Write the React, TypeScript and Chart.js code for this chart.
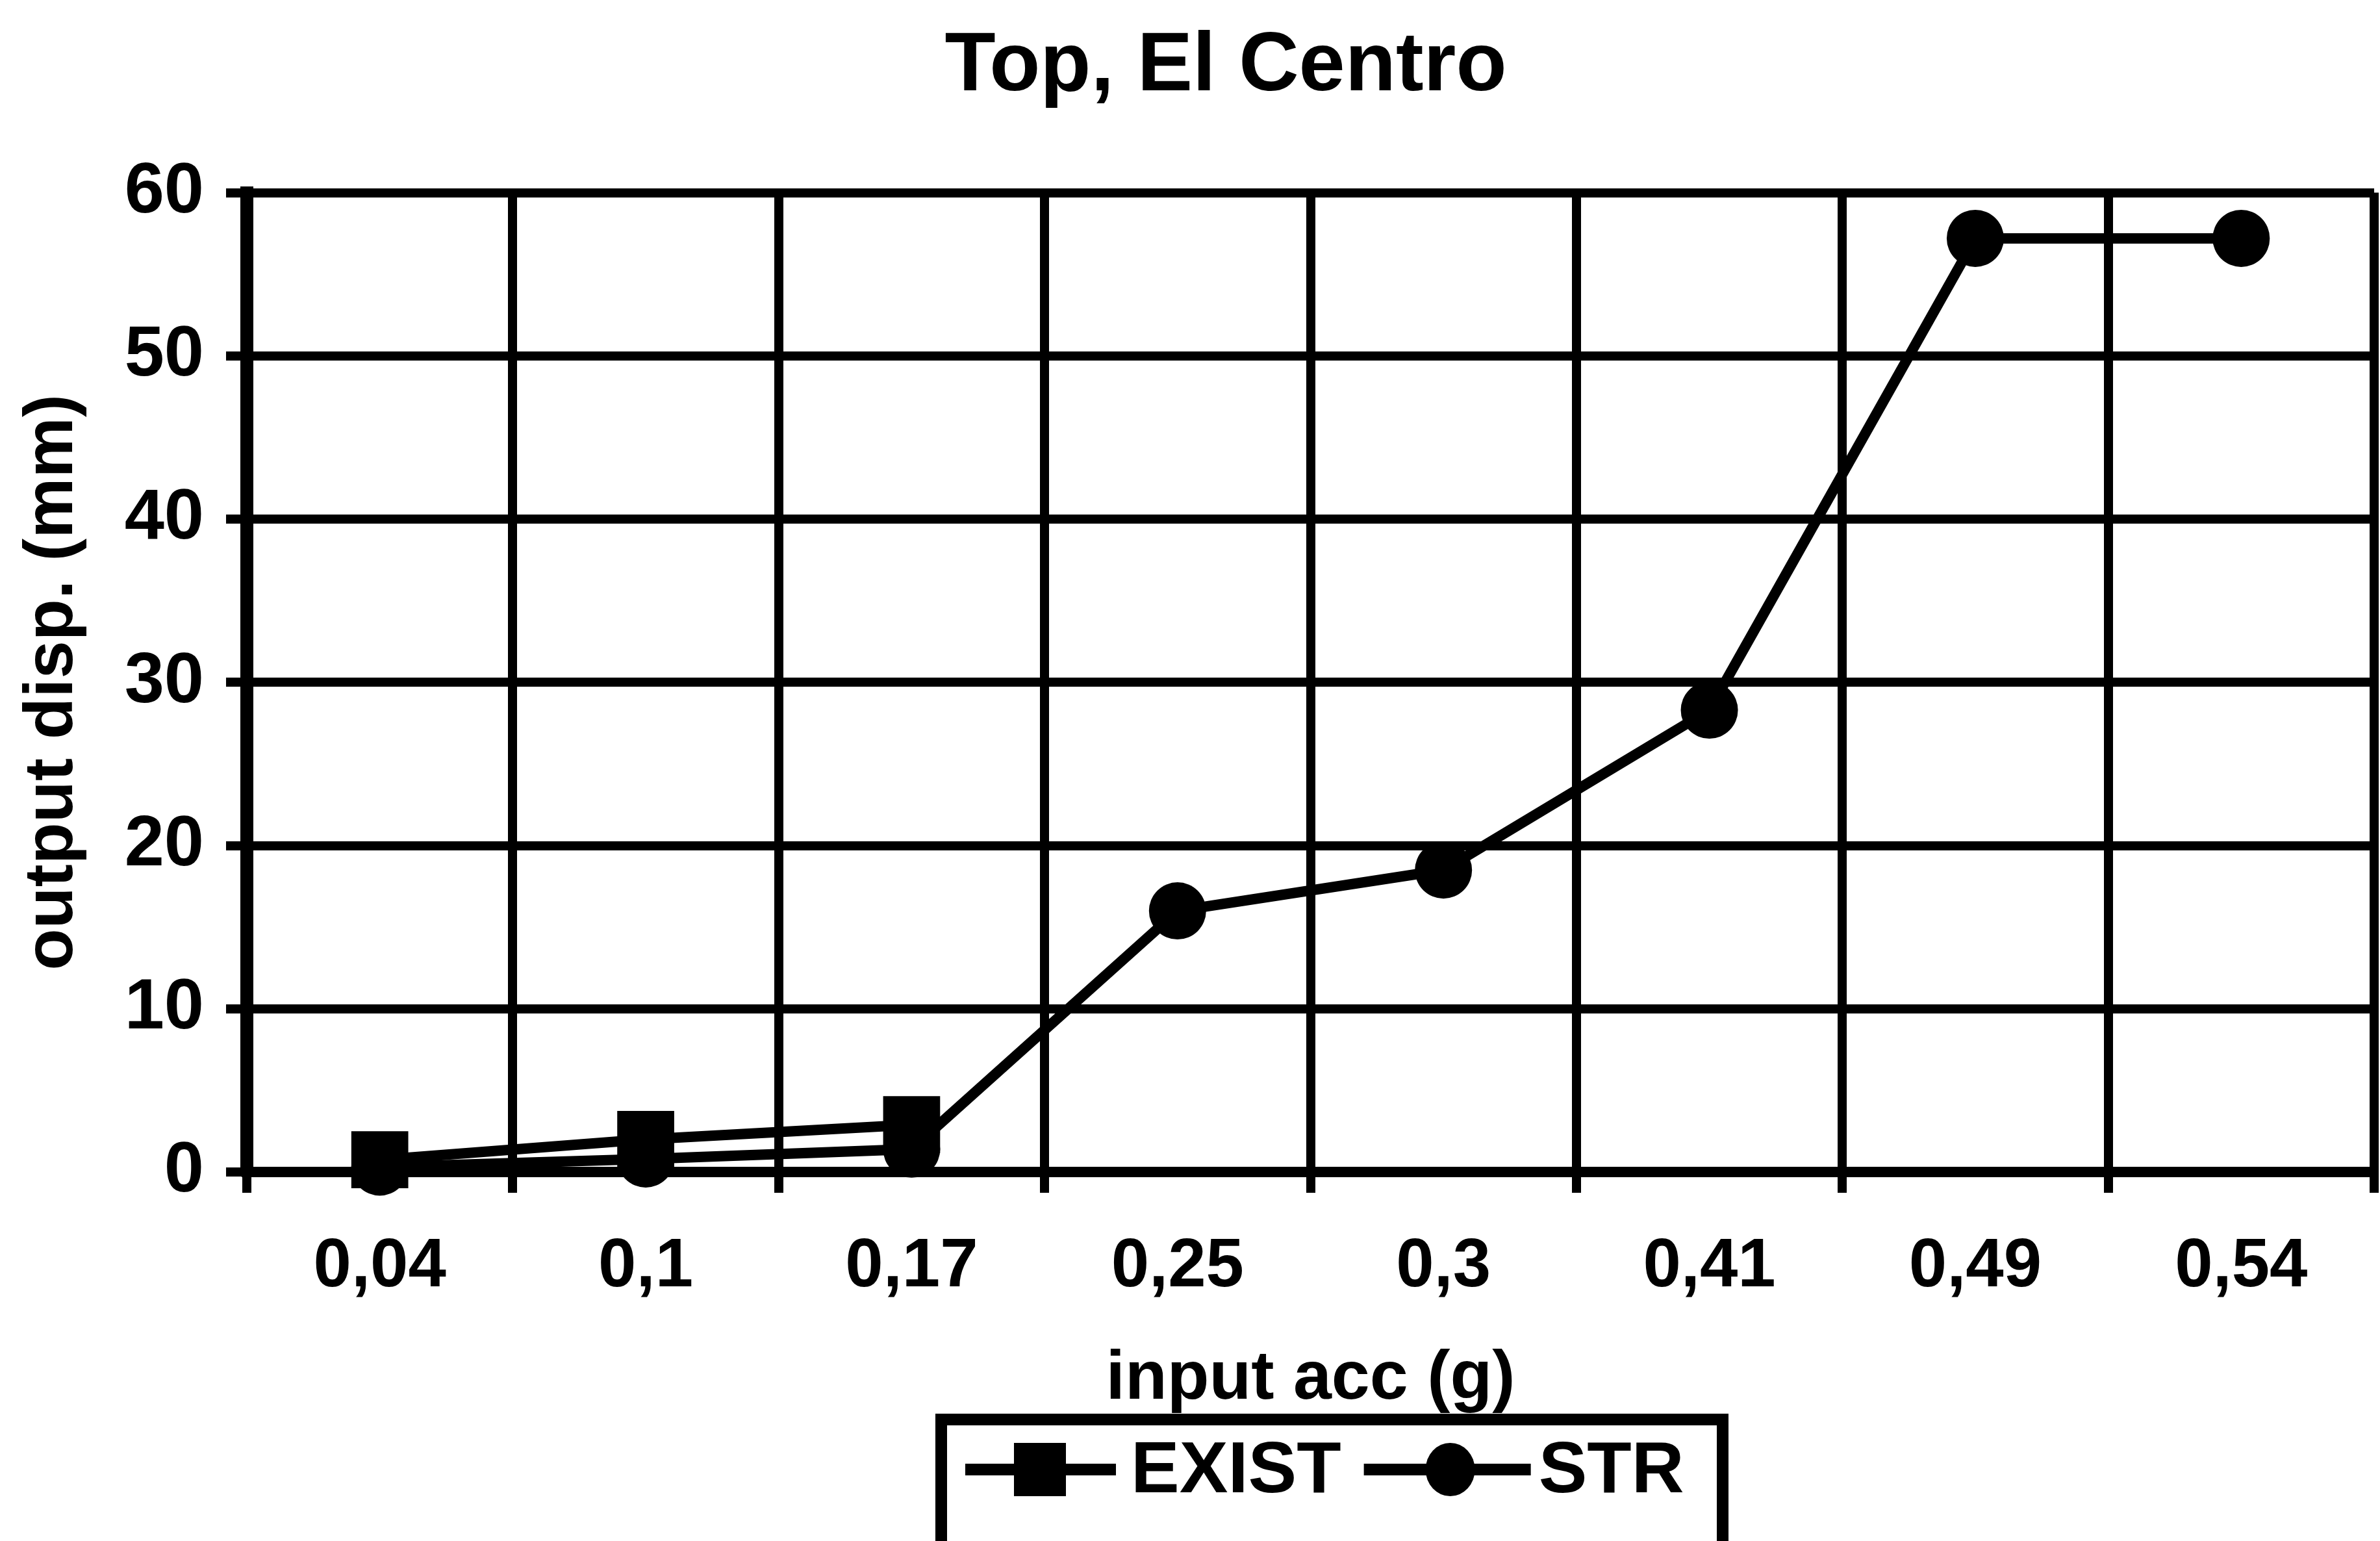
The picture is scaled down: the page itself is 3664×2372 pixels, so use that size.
import React, { useEffect, useRef } from "react";
import { Chart, registerables } from "chart.js";

Chart.register(...registerables);

// ---------- data ----------
const categories = ["0,04", "0,1", "0,17", "0,25", "0,3", "0,41", "0,49", "0,54"];
const existValues = [0.75, 2.0, 2.9, null, null, null, null, null];
const strValues = [0.3, 0.8, 1.4, 16, 18.5, 28.3, 57.2, 57.2];
const seriesNames = ["EXIST", "STR"];
const yMin = 0;
const yMax = 60;
const yStep = 10;
const chartTitle = "Top, El Centro";
const xTitle = "input acc (g)";
const yTitle = "output disp. (mm)";

const FONT = "'Liberation Sans', Arial, Helvetica, sans-serif";
const INK = "#000000";

const boxLegend = {
  id: "boxLegend",
  afterDraw(chart: any) {
    const { ctx, chartArea } = chart;
    const boxW = 1203;
    const cx = (chartArea.left + chartArea.right) / 2 + 33;
    const left = cx - boxW / 2;
    const top = chartArea.bottom + 381;
    const midY = top + 77;
    ctx.save();
    ctx.strokeStyle = INK;
    ctx.fillStyle = INK;
    ctx.lineWidth = 18;
    ctx.strokeRect(left, top, boxW, 500);

    ctx.font = `bold 112px ${FONT}`;
    ctx.textBaseline = "middle";
    ctx.textAlign = "left";

    // EXIST entry
    let x = left + 37;
    ctx.lineWidth = 18;
    ctx.beginPath();
    ctx.moveTo(x, midY);
    ctx.lineTo(x + 232, midY);
    ctx.stroke();
    ctx.fillRect(x + 115 - 40, midY - 41, 80, 82);
    x += 255;
    ctx.fillText(seriesNames[0], x, midY + 4);
    x += ctx.measureText(seriesNames[0]).width + 35;

    // STR entry
    ctx.beginPath();
    ctx.moveTo(x, midY);
    ctx.lineTo(x + 257, midY);
    ctx.stroke();
    ctx.beginPath();
    ctx.ellipse(x + 133, midY, 38, 41, 0, 0, Math.PI * 2);
    ctx.fill();
    x += 269;
    ctx.fillText(seriesNames[1], x, midY + 4);
    ctx.restore();
  },
};

export default function App() {
  const canvasRef = useRef<HTMLCanvasElement | null>(null);

  useEffect(() => {
    const canvas = canvasRef.current;
    if (!canvas) return;
    const chart = new Chart(canvas, {
      type: "line",
      data: {
        labels: categories,
        datasets: [
          {
            label: seriesNames[0],
            data: existValues,
            borderColor: INK,
            backgroundColor: INK,
            borderWidth: 16,
            pointStyle: "rect",
            pointRadius: 62,
            pointHoverRadius: 62,
            pointBorderWidth: 0,
            pointBackgroundColor: INK,
            tension: 0,
            clip: false,
          } as any,
          {
            label: seriesNames[1],
            data: strValues,
            borderColor: INK,
            backgroundColor: INK,
            borderWidth: 16,
            pointStyle: "circle",
            pointRadius: 44,
            pointHoverRadius: 44,
            pointBorderWidth: 0,
            pointBackgroundColor: INK,
            tension: 0,
            clip: false,
          } as any,
        ],
      },
      options: {
        animation: false,
        responsive: false,
        devicePixelRatio: 1,
        events: [],
        layout: {
          autoPadding: false,
          padding: { top: 0, left: 119, right: 9, bottom: 185 },
        },
        plugins: {
          legend: { display: false },
          tooltip: { enabled: false },
          title: {
            display: true,
            text: chartTitle,
            color: INK,
            font: { family: FONT, size: 128, weight: "bold" },
            padding: { top: 27, bottom: 116 },
          },
        },
        scales: {
          x: {
            type: "category",
            offset: true,
            grid: {
              display: true,
              offset: true,
              color: INK,
              lineWidth: 14,
              drawTicks: true,
              tickLength: 32,
              tickColor: INK,
              tickWidth: 14,
            },
            border: { display: true, color: INK, width: 16 },
            ticks: {
              color: INK,
              font: { family: FONT, size: 105, weight: "bold" },
              padding: 52,
              maxRotation: 0,
              autoSkip: false,
            },
            title: {
              display: true,
              text: xTitle,
              color: INK,
              font: { family: FONT, size: 106, weight: "bold" },
              padding: { top: 0, bottom: 0 },
            },
            afterFit: (axis: any) => {
              axis.height = 383;
              axis.paddingLeft = 0;
              axis.paddingRight = 0;
            },
          },
          y: {
            min: yMin,
            max: yMax,
            grid: {
              color: INK,
              lineWidth: 14,
              drawTicks: true,
              tickLength: 32,
              tickColor: INK,
              tickWidth: 14,
            },
            border: { display: true, color: INK, width: 20 },
            ticks: {
              stepSize: yStep,
              color: INK,
              font: { family: FONT, size: 110, weight: "bold" },
              padding: 34,
            },
            title: {
              display: true,
              text: yTitle,
              color: INK,
              font: { family: FONT, size: 105, weight: "bold" },
              padding: { top: -100, bottom: 0 },
            },
            afterFit: (axis: any) => {
              axis.width = 261;
            },
          },
        },
      } as any,
      plugins: [boxLegend],
    });
    return () => chart.destroy();
  }, []);

  return (
    <div
      style={{
        position: "fixed",
        left: 0,
        top: 0,
        width: 3664,
        height: 2372,
        background: "#ffffff",
        overflow: "hidden",
      }}
    >
      <canvas ref={canvasRef} width={3664} height={2372} style={{ display: "block" }} />
    </div>
  );
}
